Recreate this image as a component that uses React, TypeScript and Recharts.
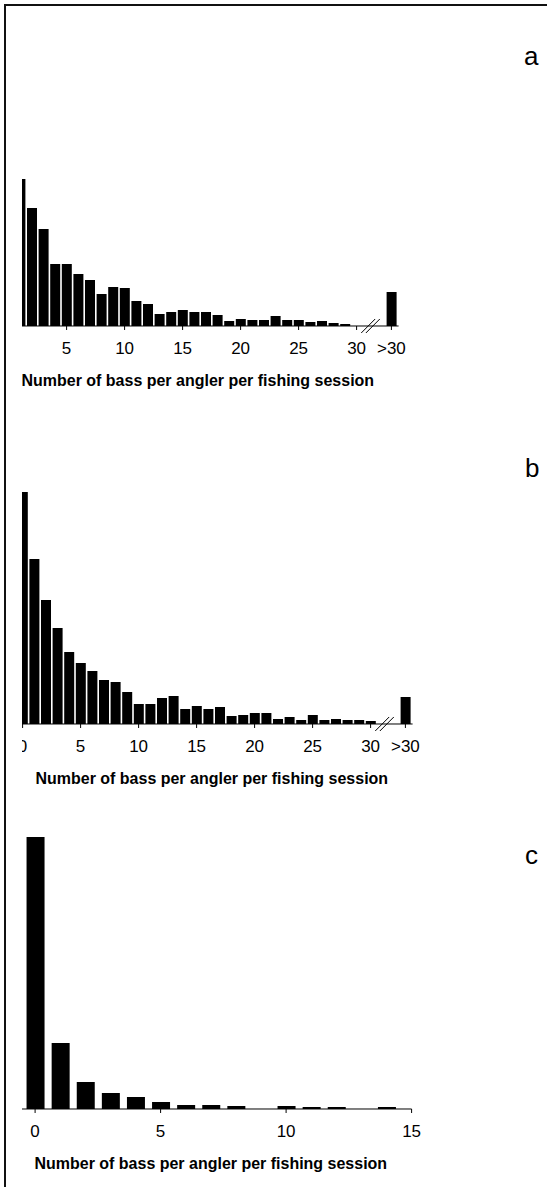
import { Bar, BarChart, ReferenceLine, XAxis, YAxis } from "recharts";

const FONT = "'Liberation Sans', Arial, Helvetica, sans-serif";
const TITLE = "Number of bass per angler per fishing session";

// panel a (bin 33 is the ">30" bar)
const binsA = [1, 2, 3, 4, 5, 6, 7, 8, 9, 10, 11, 12, 13, 14, 15, 16, 17, 18, 19, 20, 21, 22, 23, 24, 25, 26, 27, 28, 29, 30, 33];
const countsA = [147, 118, 97, 62, 62, 52, 46, 32, 39, 38, 25, 22, 12, 14, 16, 14, 14, 11, 5, 7, 6, 6, 10, 6, 6, 4, 5, 3, 2, 0, 34];
const ticksA = [5, 10, 15, 20, 25, 30, 33];

// panel b
const binsB = [0, 1, 2, 3, 4, 5, 6, 7, 8, 9, 10, 11, 12, 13, 14, 15, 16, 17, 18, 19, 20, 21, 22, 23, 24, 25, 26, 27, 28, 29, 30, 33];
const countsB = [232, 165, 124, 96, 72, 61, 53, 44, 42, 32, 20, 20, 26, 28, 15, 18, 15, 17, 8, 9, 11, 11, 5, 7, 4, 9, 4, 5, 4, 4, 3, 27];
const ticksB = [0, 5, 10, 15, 20, 25, 30, 33];

// panel c
const binsC = [0, 1, 2, 3, 4, 5, 6, 7, 8, 9, 10, 11, 12, 13, 14];
const countsC = [272, 66, 27, 16, 12, 7, 4, 4, 3, 0, 3, 2, 2, 0, 2];
const ticksC = [0, 5, 10, 15];

// axis break "//" between 30 and >30
const breakX1 = [30.4, 31.6];
const breakX2 = [30.8, 32.0];
const breakY = [-7, 7];

const PLOT_W = 401.6;

type PanelProps = {
  bins: number[];
  counts: number[];
  ticks: number[];
  xMax: number;
  yMax: number;
  barSize: number;
  left: number;
  top: number;
  withBreak?: boolean;
};

function Panel({ bins, counts, ticks, xMax, yMax, barSize, left, top, withBreak }: PanelProps) {
  const rows = bins.map((x, i) => ({ x, n: counts[i] }));
  return (
    <div style={{ position: "absolute", left, top }}>
      <BarChart
        width={PLOT_W + 30}
        height={yMax + 85}
        data={rows}
        margin={{ top: 10, right: 30, bottom: 35, left: 0 }}
      >
        <YAxis hide domain={[0, yMax]} allowDataOverflow />
        <Bar dataKey="n" fill="#000" barSize={barSize} isAnimationActive={false} />
        <XAxis
          dataKey="x"
          type="number"
          domain={[-1, xMax]}
          allowDataOverflow
          ticks={ticks}
          interval={0}
          tickFormatter={(v: number) => (v === 33 ? ">30" : String(v))}
          tick={{ fontSize: 17, fill: "#000", fontFamily: FONT }}
          tickSize={4}
          tickMargin={12}
          tickLine={{ stroke: "#000" }}
          axisLine={{ stroke: "#000" }}
          height={40}
          label={{
            value: TITLE,
            position: "bottom",
            offset: 9,
            style: { fontSize: 16, fontWeight: "bold", fill: "#000", fontFamily: FONT },
          }}
        />
        {withBreak && (
          <ReferenceLine
            ifOverflow="visible"
            stroke="#000"
            segment={[
              { x: breakX1[0], y: breakY[0] },
              { x: breakX1[1], y: breakY[1] },
            ]}
          />
        )}
        {withBreak && (
          <ReferenceLine
            ifOverflow="visible"
            stroke="#000"
            segment={[
              { x: breakX2[0], y: breakY[0] },
              { x: breakX2[1], y: breakY[1] },
            ]}
          />
        )}
      </BarChart>
    </div>
  );
}

const letterStyle = {
  position: "absolute" as const,
  fontFamily: FONT,
  fontSize: 26,
  lineHeight: "26px",
  color: "#000",
};

export default function App() {
  return (
    <div
      style={{
        position: "absolute",
        left: 0,
        top: 0,
        width: 547,
        height: 1187,
        background: "#fff",
        overflow: "hidden",
      }}
    >
      <div
        style={{
          position: "absolute",
          left: 4,
          top: 4,
          width: 560,
          height: 1200,
          borderTop: "2px solid #111",
          borderLeft: "2px solid #111",
        }}
      />
      <div style={{ position: "absolute", left: 22, top: 0, width: 525, height: 1187, overflow: "hidden" }}>
        <Panel bins={binsA} counts={countsA} ticks={ticksA} xMax={33.62} yMax={160} barSize={10} left={-24.6} top={156} withBreak />
        <Panel bins={binsB} counts={countsB} ticks={ticksB} xMax={33.62} yMax={240} barSize={10} left={-11.5} top={474} withBreak />
        <Panel bins={binsC} counts={countsC} ticks={ticksC} xMax={15} yMax={280} barSize={18} left={-12.1} top={819} />
      </div>
      <div style={{ ...letterStyle, left: 524, top: 43 }}>a</div>
      <div style={{ ...letterStyle, left: 525, top: 455 }}>b</div>
      <div style={{ ...letterStyle, left: 525, top: 842 }}>c</div>
    </div>
  );
}
